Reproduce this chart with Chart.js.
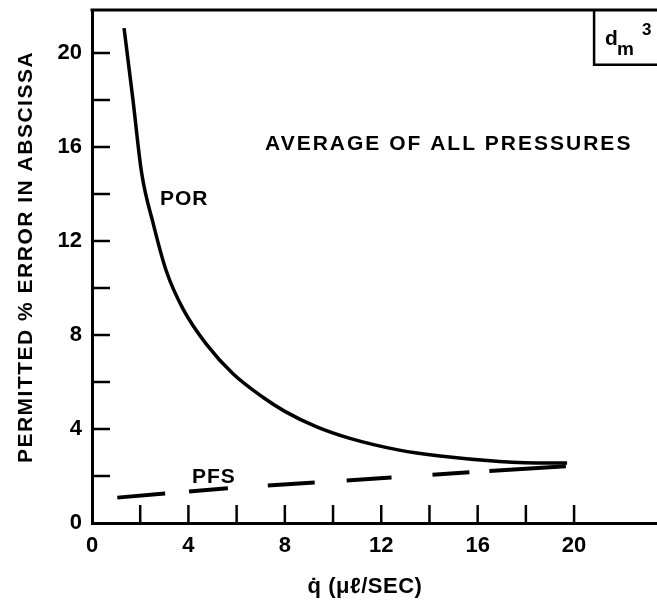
<!DOCTYPE html>
<html>
<head>
<meta charset="utf-8">
<script src="https://cdn.jsdelivr.net/npm/chart.js@4"></script>
<style>
  html, body { margin: 0; padding: 0; background: #fff; }
  #wrap { width: 657px; height: 607px; }
</style>
</head>
<body>
<div id="wrap"><canvas id="chart" width="657" height="607"></canvas></div>
<script>
// POR curve (solid)
const porX = [1.33, 1.70, 2.06, 2.55, 3.09, 3.78, 4.75, 5.85, 7.09, 8.0, 9.30, 10.7, 12.75, 14.44, 16.9, 18.96, 19.71];
const porY = [21.06, 18.0, 14.89, 12.7, 10.7, 9.1, 7.6, 6.35, 5.35, 4.75, 4.1, 3.6, 3.1, 2.85, 2.62, 2.55, 2.55];

// PFS curve (dashed)
const pfsX = [1.05, 3.02, 5.62, 9.23, 12.41, 15.65, 19.66];
const pfsY = [1.08, 1.26, 1.48, 1.72, 1.94, 2.16, 2.42];

// tick marks (drawn inward) and labelled ticks
const xMinorTicks = [2, 4, 6, 8, 10, 12, 14, 16, 18, 20];
const yMinorTicks = [2, 4, 6, 8, 10, 12, 14, 16, 18, 20];
const xLabelMax = 20;

const xTitle = "q\u0307 (\u03bc\u2113/SEC)";
const yTitle = "PERMITTED % ERROR IN ABSCISSA";
const noteText = "AVERAGE OF ALL PRESSURES";

const FONT = "'Liberation Sans', Arial, sans-serif";

function toPoints(xs, ys){
    return xs.map((x, i) => ({x: x, y: ys[i]}));
}

const decorations = {
    id: "decorations",
    afterDraw(chart){
        const ctx = chart.ctx;
        const area = chart.chartArea;
        const xs = chart.scales.x;
        const ys = chart.scales.y;
        ctx.save();
        ctx.strokeStyle = "#000";
        ctx.fillStyle = "#000";
        ctx.lineCap = "butt";

        // top frame line
        ctx.lineWidth = 3;
        ctx.beginPath();
        ctx.moveTo(area.left - 1.5, area.top);
        ctx.lineTo(area.right, area.top);
        ctx.stroke();

        // inward ticks
        ctx.lineWidth = 2.5;
        xMinorTicks.forEach(v => {
            const px = xs.getPixelForValue(v);
            ctx.beginPath();
            ctx.moveTo(px, area.bottom);
            ctx.lineTo(px, area.bottom - 18);
            ctx.stroke();
        });
        yMinorTicks.forEach(v => {
            const py = ys.getPixelForValue(v);
            ctx.beginPath();
            ctx.moveTo(area.left, py);
            ctx.lineTo(area.left + 18, py);
            ctx.stroke();
        });

        // d_m^3 box in upper right
        const bx = xs.getPixelForValue(20.83);
        const by = ys.getPixelForValue(19.5);
        ctx.lineWidth = 2.5;
        ctx.beginPath();
        ctx.moveTo(bx, area.top);
        ctx.lineTo(bx, by);
        ctx.lineTo(area.right, by);
        ctx.stroke();

        ctx.textAlign = "left";
        ctx.textBaseline = "alphabetic";
        ctx.font = "bold 21px " + FONT;
        ctx.fillText("d", bx + 11, area.top + 35);
        ctx.font = "bold 19px " + FONT;
        ctx.fillText("m", bx + 23, area.top + 45);
        ctx.font = "bold 17px " + FONT;
        ctx.fillText("3", bx + 48, area.top + 25);

        // in-plot labels
        ctx.font = "bold 21px " + FONT;
        ctx.letterSpacing = "2px";
        ctx.fillText(noteText, xs.getPixelForValue(7.18), ys.getPixelForValue(15.87));
        ctx.letterSpacing = "1px";
        ctx.fillText("POR", xs.getPixelForValue(2.82), ys.getPixelForValue(13.53));
        ctx.fillText("PFS", xs.getPixelForValue(4.15), ys.getPixelForValue(1.70));

        // axis titles
        ctx.font = "bold 21px " + FONT;
        ctx.letterSpacing = "1.5px";
        ctx.textAlign = "center";
        ctx.textBaseline = "middle";
        ctx.save();
        ctx.translate(26, 257);
        ctx.rotate(-Math.PI / 2);
        ctx.fillText(yTitle, 0, 0);
        ctx.restore();

        ctx.font = "bold 22px " + FONT;
        ctx.letterSpacing = "0.5px";
        ctx.textBaseline = "alphabetic";
        ctx.fillText(xTitle, 365, 593);
        ctx.restore();
    }
};

const ctx = document.getElementById("chart").getContext("2d");
new Chart(ctx, {
    type: "line",
    data: {
        datasets: [
            {
                label: "POR",
                data: toPoints(porX, porY),
                borderColor: "#000",
                borderWidth: 3.5,
                pointRadius: 0,
                cubicInterpolationMode: "monotone",
                fill: false
            },
            {
                label: "PFS",
                data: toPoints(pfsX, pfsY),
                borderColor: "#000",
                borderWidth: 4,
                borderDash: [48, 24, 39, 40, 47, 32, 45, 41, 37, 20, 80, 40],
                pointRadius: 0,
                tension: 0,
                fill: false
            }
        ]
    },
    options: {
        responsive: false,
        animation: false,
        layout: { padding: { top: 10, right: 0, bottom: 0, left: 0 } },
        plugins: {
            legend: { display: false },
            tooltip: { enabled: false }
        },
        scales: {
            x: {
                type: "linear",
                min: 0,
                max: 23.44,
                grid: { display: false, drawTicks: false },
                border: { display: true, color: "#000", width: 3 },
                ticks: {
                    stepSize: 4,
                    includeBounds: false,
                    autoSkip: false,
                    maxRotation: 0,
                    padding: 10,
                    color: "#000",
                    font: { family: FONT, size: 22, weight: "bold" },
                    callback: v => (v <= xLabelMax ? v : "")
                },
                afterFit: scale => {
                    scale.height = 84;
                    scale.paddingRight = 0;
                }
            },
            y: {
                type: "linear",
                min: 0,
                max: 21.83,
                grid: { display: false, drawTicks: false },
                border: { display: true, color: "#000", width: 3 },
                ticks: {
                    stepSize: 4,
                    includeBounds: false,
                    autoSkip: false,
                    padding: 10,
                    color: "#000",
                    font: { family: FONT, size: 22, weight: "bold" }
                },
                afterFit: scale => {
                    scale.width = 92;
                    scale.paddingTop = 0;
                    scale.paddingBottom = 0;
                }
            }
        }
    },
    plugins: [decorations]
});
</script>
</body>
</html>
